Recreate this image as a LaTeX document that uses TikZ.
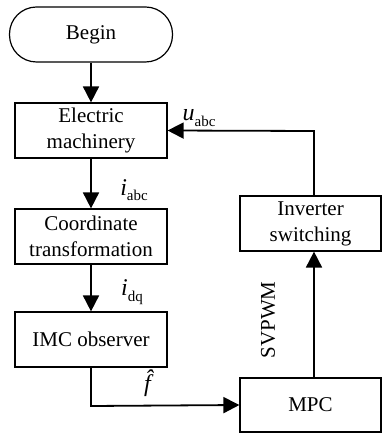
\documentclass[tikz,border=0pt]{standalone}
\usepackage{fontspec}
\setmainfont{Liberation Serif}
\usetikzlibrary{arrows.meta}

\tikzset{
  block/.style={draw, line width=1.2pt, minimum width=152pt, minimum height=55pt, align=center, inner sep=0pt},
  flow/.style={line width=1.8pt, -{Triangle[length=16pt,width=16pt]}},
  sym/.style={font=\fontsize{24}{24}\selectfont},
}
\newcommand{\sig}[2]{\textit{#1}\raisebox{-0.5ex}{\fontsize{15}{15}\selectfont #2}}

\begin{document}
\begin{tikzpicture}[x=1pt, y=-1pt, font=\fontsize{21}{26}\selectfont]
\useasboundingbox (0,0) rectangle (382,435);
\node[draw, line width=1.2pt, rounded corners=27pt, minimum width=163pt, minimum height=55pt, inner sep=0pt] (begin) at (91,34.5) {Begin};
\node[block] (em) at (91,130.5) {Electric\\machinery};
\node[block] (ct) at (91,236.5) {Coordinate\\transformation};
\node[block] (imc) at (91,339.5) {IMC observer};
\node[block, minimum width=141pt] (inv) at (310.5,223.5) {Inverter\\switching};
\node[block, minimum width=141pt, minimum height=54pt] (mpc) at (310.5,405) {MPC};
\coordinate (bend1) at (91,406);
\coordinate (bend2) at (314,131);
\draw[flow] (begin) -- (em);
\draw[flow] (em) -- (ct);
\draw[flow] (ct) -- (imc);
\draw[flow] (imc.south) -- (bend1) -- (mpc.west);
\draw[flow] ([xshift=3.5pt]mpc.north) -- ([xshift=3.5pt]inv.south);
\draw[flow] ([xshift=3.5pt]inv.north) -- (bend2) -- (em.east);
% labels
\node[sym] (uabc) at (199,118) {\sig{u}{abc}};
\node[sym] (iabc) at (134,190) {\sig{i}{abc}};
\node[sym] (idq) at (132,292) {\sig{i}{dq}};
\node[sym] (fhat) at (152,383) {\textit{\^{f}}};
\node[rotate=90] (svpwm) at (268,320) {SVPWM};
\end{tikzpicture}
\end{document}
